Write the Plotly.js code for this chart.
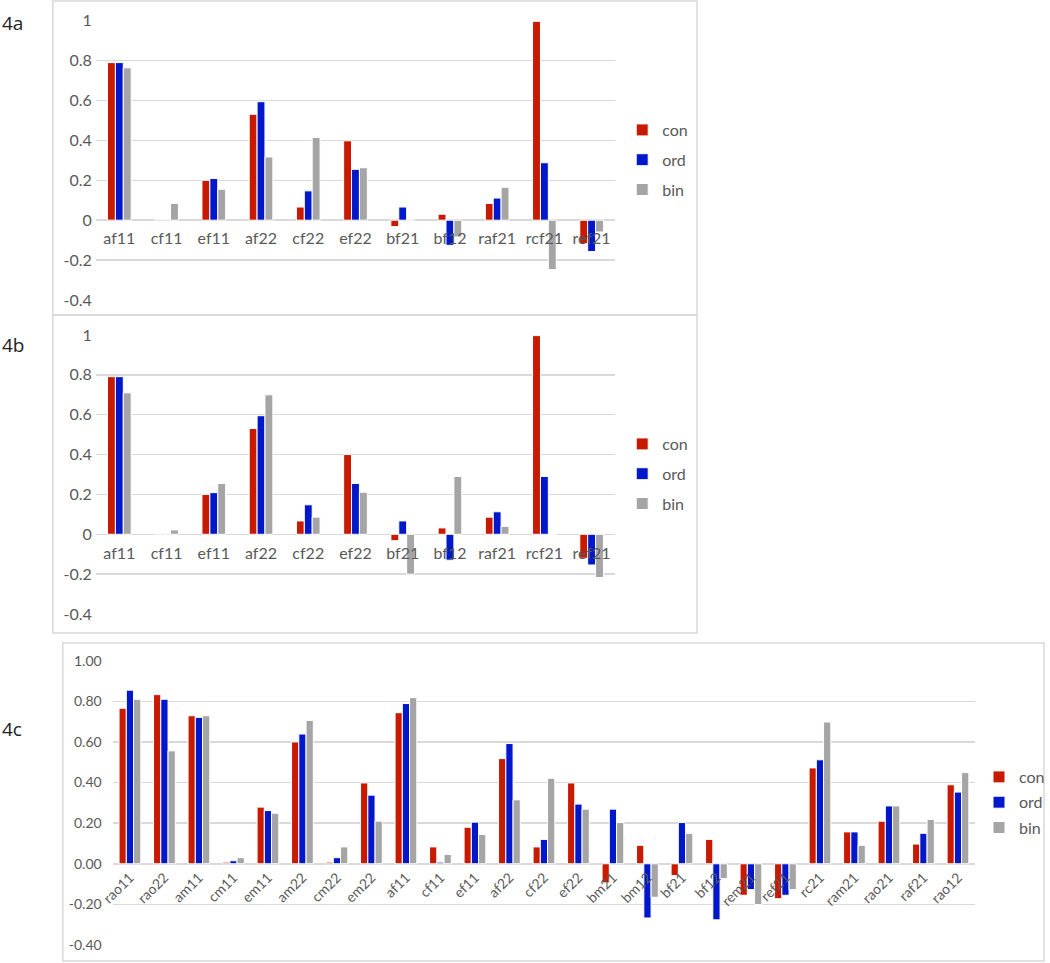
<!DOCTYPE html>
<html>
<head>
<meta charset="utf-8">
<script src="https://cdn.plot.ly/plotly-3.0.1.min.js"></script>
<style>
  html, body { margin: 0; padding: 0; background: #fff; }
  #chart { width: 1050px; height: 963px; }
</style>
</head>
<body>
<div id="chart"></div>
<script>
// panels 4a / 4b share the same categories
const catsAB = ['af11', 'cf11', 'ef11', 'af22', 'cf22', 'ef22', 'bf21', 'bf12', 'raf21', 'rcf21', 'ref21'];

const con4a = [0.79, 0.004, 0.20, 0.531, 0.066, 0.398, -0.032, 0.03, 0.084, 0.997, -0.118];
const ord4a = [0.79, 0.004, 0.209, 0.594, 0.147, 0.255, 0.066, -0.126, 0.111, 0.288, -0.157];
const bin4a = [0.764, 0.084, 0.155, 0.317, 0.415, 0.263, 0.002, -0.084, 0.165, -0.248, -0.059];

const con4b = [0.791, 0.004, 0.20, 0.531, 0.067, 0.40, -0.032, 0.032, 0.086, 0.997, -0.12];
const ord4b = [0.791, 0.004, 0.209, 0.595, 0.148, 0.255, 0.067, -0.13, 0.113, 0.29, -0.154];
const bin4b = [0.71, 0.022, 0.255, 0.70, 0.086, 0.211, -0.20, 0.29, 0.04, 0, -0.217];

const cats4c = ['rao11', 'rao22', 'am11', 'cm11', 'em11', 'am22', 'cm22', 'em22', 'af11', 'cf11', 'ef11',
  'af22', 'cf22', 'ef22', 'bm21', 'bm12', 'bf21', 'bf12', 'rem21', 'ref21', 'rc21', 'ram21', 'rao21', 'raf21', 'rao12'];
const con4c = [0.766, 0.833, 0.729, 0.008, 0.279, 0.60, 0.008, 0.398, 0.744, 0.083, 0.18,
  0.518, 0.083, 0.398, -0.094, 0.091, -0.058, 0.12, -0.155, -0.172, 0.472, 0.157, 0.21, 0.097, 0.389];
const ord4c = [0.855, 0.81, 0.721, 0.015, 0.262, 0.639, 0.03, 0.338, 0.789, 0.008, 0.205,
  0.592, 0.12, 0.294, 0.269, -0.267, 0.203, -0.276, -0.127, -0.155, 0.512, 0.157, 0.285, 0.15, 0.353];
const bin4c = [0.81, 0.556, 0.729, 0.03, 0.249, 0.706, 0.083, 0.21, 0.818, 0.046, 0.144,
  0.315, 0.421, 0.269, 0.203, -0.165, 0.15, -0.073, -0.201, -0.127, 0.698, 0.091, 0.285, 0.218, 0.449];

const seriesNames = ['con', 'ord', 'bin'];
const yTicks = [-0.4, -0.2, 0, 0.2, 0.4, 0.6, 0.8, 1];
const yTextAB = ['-0.4', '-0.2', '0', '0.2', '0.4', '0.6', '0.8', '1'];
const yTextC = ['-0.40', '-0.20', '0.00', '0.20', '0.40', '0.60', '0.80', '1.00'];

const COLORS = ['#c81a00', '#0018c9', '#a5a5a5'];
const GRID = '#d9d9d9';
const TXT = '#595959';
const FONT = 'Lato, "Open Sans", sans-serif';

function panelTraces(cats, vals, ax, legendId, barW) {
  return vals.map((v, i) => ({
    type: 'bar',
    name: seriesNames[i],
    x: cats,
    y: v,
    xaxis: 'x' + ax,
    yaxis: 'y' + ax,
    width: barW,
    offset: -1.5 * barW + i * barW,
    marker: {color: COLORS[i], line: {color: '#fff', width: 1}},
    legend: legendId,
    legendgroup: legendId + i,
    hoverinfo: 'x+y'
  }));
}

const data = [
  ...panelTraces(catsAB, [con4a, ord4a, bin4a], '', 'legend', 0.167),
  ...panelTraces(catsAB, [con4b, ord4b, bin4b], '2', 'legend2', 0.167),
  ...panelTraces(cats4c, [con4c, ord4c, bin4c], '3', 'legend3', 0.21)
];

const H = 963, W = 1050;
const py = px => (H - px) / H;   // pixel row -> paper fraction
const pxx = px => px / W;

function yAxis(xAnchor, domTop, domBot, labels, size, standoff) {
  return {
    anchor: xAnchor,
    domain: [py(domBot), py(domTop)],
    range: [-0.4, 1],
    tickvals: yTicks,
    ticktext: labels,
    showgrid: true, gridcolor: GRID, gridwidth: 1.5,
    zeroline: true, zerolinecolor: GRID, zerolinewidth: 1.5,
    showline: false, ticks: '',
    ticklabelstandoff: standoff,
    tickfont: {family: FONT, size: size, color: TXT},
    fixedrange: true
  };
}

function xAxis(left, right, zeroPx, size, angle, standoff) {
  return {
    domain: [pxx(left), pxx(right)],
    anchor: 'free',
    position: py(zeroPx),
    type: 'category',
    showgrid: false, showline: false, zeroline: false, ticks: '',
    tickangle: angle,
    ticklabelstandoff: standoff,
    tickfont: {family: FONT, size: size, color: TXT},
    fixedrange: true
  };
}

function legendAt(xPx, yPx, gap, size) {
  return {
    x: pxx(xPx), y: py(yPx), xanchor: 'left', yanchor: 'top',
    bgcolor: 'rgba(0,0,0,0)', borderwidth: 0,
    itemwidth: 30, tracegroupgap: gap,
    font: {family: FONT, size: size, color: TXT}
  };
}

function box(x0, y0, x1, y1) {
  return {type: 'rect', xref: 'paper', yref: 'paper', layer: 'below',
    x0: pxx(x0), x1: pxx(x1), y0: py(y1), y1: py(y0),
    line: {color: GRID, width: 1.5}, fillcolor: 'rgba(0,0,0,0)'};
}

function panelLabel(text, yPx) {
  return {text: text, xref: 'paper', yref: 'paper', x: 0, y: py(yPx),
    xanchor: 'left', yanchor: 'middle', showarrow: false,
    font: {family: '"Open Sans", sans-serif', size: 19, color: '#222'}};
}

const layout = {
  width: W, height: H, autosize: false,
  margin: {l: 0, r: 0, t: 0, b: 0},
  paper_bgcolor: '#fff', plot_bgcolor: 'rgba(0,0,0,0)',
  barmode: 'overlay',
  showlegend: true,
  xaxis: xAxis(96, 617, 218.3, 16, 0, 9),
  yaxis: yAxis('x', 20.7, 300, yTextAB, 16, 3),
  xaxis2: xAxis(96, 617, 532.7, 16, 0, 9),
  yaxis2: yAxis('x2', 335, 614, yTextAB, 16, 3),
  xaxis3: xAxis(113, 978, 862.7, 14, -45, 3),
  yaxis3: yAxis('x3', 660.7, 945, yTextC, 14, 10),
  legend: legendAt(624, 113, 6, 16),
  legend2: legendAt(624, 427, 6, 16),
  legend3: legendAt(982, 760, 1.5, 16),
  shapes: [box(53, 1, 699, 315), box(53, 315, 699, 633), box(63, 643, 1047, 961)],
  annotations: [panelLabel('4a', 23), panelLabel('4b', 345), panelLabel('4c', 729)]
};

Plotly.newPlot('chart', data, layout, {displayModeBar: false, staticPlot: true});
</script>
</body>
</html>
